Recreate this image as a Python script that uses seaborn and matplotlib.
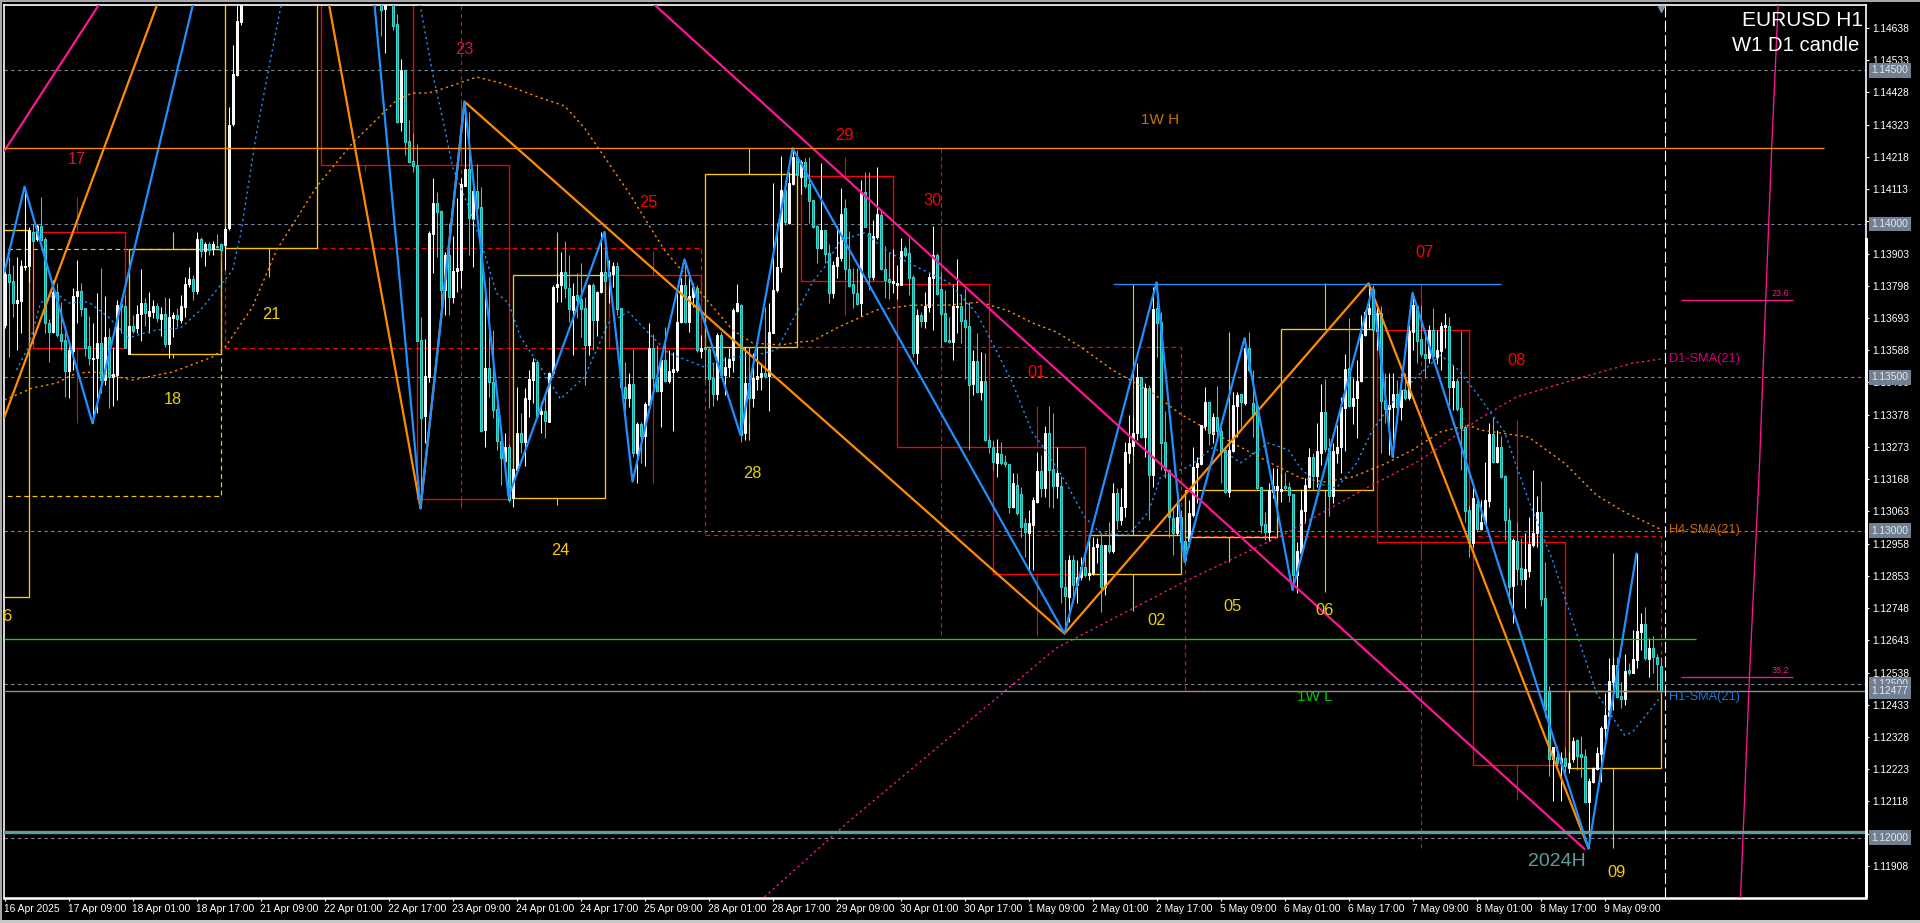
import numpy as np
import pandas as pd
import seaborn as sns
import matplotlib.pyplot as plt
from matplotlib.patches import Rectangle

off = np.nan  # bars above the top of the window

# H1 candles, prices in points (1e-5)
opens = [
    113670, 113836, 113814, 113741, 113750, 113858, 113862, 113973, 113951, 113993,
    113952, 113678, 113647, 113777, 113640, 113621, 113521, 113587, 113765, 113781,
    113724, 113602, 113559, 113563, 113610, 113491, 113630, 113502, 113507, 113737,
    113732, 113575, 113667, 113659, 113706, 113741, 113700, 113714, 113732, 113690,
    113706, 113608, 113694, 113703, 113687, 113730, 113804, 113819, 113781, 113950,
    113912, 113933, 113917, 113929, 113933, 113931, 113985, 114325, 114485, 114658,
] + [off] * 34 + [
    114800, 114699, off, 114800, 114651, 114333,
    114501, 114270, 114206, 114191, 113621, 113374, 113502, 113967, 114067, 114042,
    113784, 113898, 113762, 113846, 113849, 114123, 114177, 114016, 114107, 114053,
    113328, 113529, 113486, 113395, 113293, 113228, 113272, 113105, 113198, 113317,
    113290, 113429, 113491, 113549, 113380, 113390, 113355, 113513, 113793, 113800,
    113842, 113790, 113719, 113767, 113756, 113724, 113605, 113800, 113686, 113778,
    113844, 113830, 113836, 113862, 113724, 113469, 113434, 113478, 113252, 113348,
    113310, 113410, 113594, 113502, 113455, 113556, 113489, 113518, 113524, 113679,
    113800, 113681, 113762, 113792, 113587, 113597, 113593, 113496, 113445, 113638,
    113507, 113532, 113556, 113716, 113735, 113317, 113480, 113431, 113494, 113502,
    113515, 113505, 113643, 113784, 113860, 114110, 114003, 114130, 114219, 114153,
    114202, 114130, 114077, 113993, 113920, 113980, 113904, 113775, 113862, 113887,
    114050, 113852, 113804, 113775, 113741, 114102, 113971, 113825, 113956, 114029,
    113853, 113819, 113808, 113802, 113802, 113922, 113904, 113825, 113578, 113703,
    113684, 113730, 113822, 113898, 113787, 113709, 113621, 113616, 113728, 113732,
    113685, 113667, 113477, 113553, 113453, 113489, 113295, 113274, 113222, 113250,
    113225, 113217, 113078, 113149, 113120, 113026, 112991, 113019, 113095, 113194,
    113138, 113317, 113201, 113146, 113146, 112816, 112785, 112905, 112823, 112850,
    112881, 112856, 112863, 112946, 112953, 112818, 112953, 112935, 113122, 113035,
    113076, 113254, 113276, 113317, 113502, 113306, 113466, 113181, 113724, 113681,
    113288, 113198, 113040, 112991, 113044, 112967, 112967, 113051, 113206, 113217,
    113341, 113420, 113315, 113369, 113326, 113263, 113127, 113260, 113406, 113445,
    113417, 113596, 113417, 113406, 113141, 113022, 112995, 113127, 113133, 113130,
    113146, 113141, 113120, 112856, 112929, 113065, 113144, 113241, 113178, 113254,
    113386, 113268, 113113, 113254, 113274, 113401, 113529, 113406, 113431, 113488,
    113638, 113705, 113786, 113651, 113708, 113426, 113395, 113404, 113447, 113404,
    113458, 113431, 113648, 113732, 113623, 113576, 113562, 113654, 113567, 113586,
    113663, 113667, 113469, 113488, 113399, 113339, 113067, 112959, 113087, 113005,
    113026, 113098, 113315, 113223, 113274, 113178, 113035, 112820, 112966, 112877,
    112843, 112870, 112953, 112991, 113061, 112780, 112478, 112256, 112264, 112242,
    112258, 112226, 112255, 112318, 112272, 112266, 112117, 112180, 112223, 112272,
    112356, 112397, 112508, 112562, 112461, 112453, 112546, 112537, 112579, 112670,
    112696, 112581, 112617, 112587, 112559,
]
highs = [
    113860, 113893, 113865, 113893, 113882, 114121, 113991, 114000, 114000, 114088,
    113956, 113689, 113817, 113806, 113746, 113643, 113610, 113790, 113882, 113806,
    113724, 113700, 113676, 113773, 113855, 113765, 113659, 113600, 113752, 113757,
    113768, 113667, 113703, 113735, 113853, 113757, 113779, 113752, 113741, 113728,
    113760, 113757, 113714, 113724, 113768, 113828, 113860, 113833, 113972, 113958,
    113942, 113942, 113945, 113967, 113938, 113991, 114379, 114582, 114718, 114900,
] + [off] * 34 + [
    114850, 114850, off, 114850, 114683, 114536,
    114501, 114338, 114295, 114260, 113697, 113623, 113977, 114148, 114105, 114045,
    113909, 114001, 113960, 114083, 114148, 114398, 114365, 114159, 114194, 114121,
    113806, 113828, 113654, 113431, 113295, 113317, 113282, 113203, 113469, 113382,
    113464, 113524, 113562, 113556, 113418, 113453, 113518, 113800, 113838, 113909,
    113944, 113898, 113806, 113838, 113871, 113762, 113803, 113806, 113781, 113974,
    113974, 113882, 113876, 113876, 113724, 113549, 113513, 113591, 113355, 113355,
    113420, 113676, 113640, 113605, 113562, 113663, 113589, 113583, 113773, 113822,
    113882, 113828, 113806, 113800, 113638, 113632, 113597, 113551, 113643, 113648,
    113567, 113594, 113724, 113803, 113739, 113600, 113572, 113578, 113597, 113545,
    113730, 113741, 114132, 114001, 114221, 114143, 114170, 114246, 114240, 114208,
    114213, 114216, 114077, 113995, 114197, 113980, 113934, 113880, 113993, 114115,
    114080, 113977, 113855, 113855, 114143, 114168, 114168, 114012, 114184, 114045,
    113928, 113909, 113917, 113866, 113953, 113928, 113953, 113833, 113722, 113714,
    113777, 113838, 113993, 113904, 113844, 113784, 113697, 113804, 113885, 113771,
    113786, 113746, 113589, 113643, 113583, 113578, 113312, 113295, 113298, 113290,
    113247, 113219, 113187, 113187, 113144, 113040, 113067, 113109, 113257, 113247,
    113341, 113406, 113382, 113274, 113178, 112905, 112921, 112921, 112905, 112915,
    112937, 112980, 112980, 112975, 112991, 112953, 113029, 113154, 113138, 113138,
    113290, 113377, 113371, 113545, 113502, 113480, 113475, 113795, 113811, 113714,
    113391, 113200, 113073, 113100, 113067, 112980, 113100, 113274, 113241, 113344,
    113467, 113423, 113385, 113471, 113339, 113274, 113274, 113453, 113453, 113450,
    113627, 113646, 113524, 113420, 113144, 113062, 113154, 113203, 113203, 113185,
    113192, 113160, 113120, 112964, 113135, 113171, 113268, 113252, 113350, 113477,
    113493, 113301, 113285, 113344, 113437, 113576, 113692, 113496, 113556, 113703,
    113719, 113804, 113800, 113735, 113732, 113513, 113513, 113513, 113491, 113513,
    113513, 113670, 113773, 113732, 113735, 113654, 113670, 113724, 113654, 113681,
    113708, 113697, 113540, 113496, 113651, 113344, 113084, 113138, 113100, 113100,
    113223, 113350, 113371, 113328, 113309, 113181, 113073, 112975, 113029, 112975,
    112991, 113044, 113198, 113113, 113162, 112899, 112494, 112296, 112299, 112280,
    112296, 112280, 112327, 112323, 112331, 112288, 112196, 112229, 112296, 112364,
    112470, 112584, 112590, 112590, 112508, 112598, 112568, 112677, 112926, 112731,
    112750, 112649, 112657, 112600, 112590,
]
lows = [
    113659, 113567, 113697, 113589, 113645, 113849, 113811, 113610, 113945, 113945,
    113645, 113551, 113643, 113632, 113589, 113437, 113431, 113524, 113678, 113700,
    113569, 113540, 113350, 113382, 113448, 113475, 113399, 113406, 113426, 113643,
    113594, 113575, 113643, 113643, 113619, 113667, 113643, 113692, 113681, 113634,
    113600, 113562, 113632, 113665, 113676, 113697, 113795, 113752, 113771, 113893,
    113862, 113898, 113898, 113920, 113871, 113849, 113980, 114318, 114481, 114648,
] + [off] * 34 + [
    114612, 114555, off, 114631, 114327, 114303,
    114224, 114197, 114170, 113618, 113073, 113285, 113486, 113838, 113893, 113703,
    113703, 113703, 113743, 113779, 113790, 114164, 113898, 113860, 114023, 113323,
    113274, 113437, 113366, 113263, 113149, 113178, 113095, 113078, 113192, 113252,
    113211, 113371, 113415, 113371, 113317, 113301, 113353, 113507, 113746, 113746,
    113757, 113681, 113572, 113692, 113632, 113475, 113572, 113589, 113635, 113776,
    113800, 113741, 113795, 113703, 113458, 113393, 113404, 113241, 113156, 113220,
    113211, 113399, 113469, 113453, 113337, 113486, 113480, 113325, 113518, 113676,
    113676, 113648, 113730, 113583, 113562, 113491, 113399, 113406, 113426, 113502,
    113442, 113502, 113518, 113714, 113290, 113295, 113350, 113404, 113458, 113458,
    113496, 113391, 113643, 113779, 113844, 113996, 114000, 114126, 114153, 114097,
    114115, 114001, 113985, 113871, 113917, 113871, 113741, 113757, 113822, 113880,
    113817, 113795, 113724, 113735, 113700, 113988, 113784, 113817, 113950, 113849,
    113757, 113754, 113773, 113754, 113800, 113893, 113768, 113567, 113543, 113665,
    113659, 113714, 113654, 113768, 113600, 113616, 113610, 113556, 113643, 113610,
    113493, 113263, 113442, 113450, 113426, 113292, 113252, 113198, 113176, 113214,
    113209, 113057, 113073, 113051, 112980, 112915, 112872, 112872, 113089, 113111,
    113111, 113076, 113073, 113105, 112763, 112676, 112704, 112763, 112763, 112839,
    112850, 112839, 112856, 112894, 112736, 112790, 112926, 112926, 113004, 113019,
    113046, 113220, 113247, 113295, 113301, 113241, 113035, 113143, 113567, 113198,
    113171, 112980, 112921, 112986, 112926, 112894, 112948, 113046, 113089, 113214,
    113328, 113279, 113285, 113295, 113154, 113122, 113111, 113258, 113306, 113339,
    113410, 113518, 113306, 113133, 112991, 112970, 112967, 113105, 113100, 113095,
    113133, 113095, 112807, 112798, 112926, 113024, 113138, 113133, 113144, 113214,
    113257, 113048, 113089, 113220, 113187, 113260, 113404, 113347, 113301, 113486,
    113634, 113659, 113652, 113589, 113254, 113350, 113247, 113241, 113350, 113361,
    113426, 113426, 113589, 113545, 113569, 113496, 113545, 113567, 113543, 113524,
    113594, 113410, 113393, 113390, 113198, 113029, 112913, 112948, 112997, 113002,
    113024, 113078, 113220, 113220, 113171, 112970, 112763, 112698, 112823, 112823,
    112749, 112850, 112948, 112948, 112755, 112394, 112202, 112120, 112231, 112120,
    112199, 112210, 112247, 112220, 112199, 112112, 111965, 112177, 112220, 112182,
    112313, 112394, 112416, 112454, 112421, 112432, 112530, 112535, 112552, 112611,
    112579, 112524, 112535, 112481, 112470,
]
closes = [
    113836, 113811, 113743, 113752, 113862, 113862, 113980, 113945, 113993, 113947,
    113676, 113648, 113779, 113638, 113619, 113521, 113589, 113765, 113781, 113721,
    113594, 113562, 113564, 113610, 113491, 113632, 113502, 113510, 113735, 113730,
    113594, 113667, 113652, 113706, 113741, 113710, 113716, 113732, 113692, 113706,
    113607, 113697, 113703, 113689, 113732, 113804, 113819, 113782, 113950, 113912,
    113933, 113914, 113933, 113925, 113914, 113983, 114322, 114488, 114661, 114850,
] + [off] * 34 + [
    114696, 114800, off, 114644, 114333, 114501,
    114267, 114202, 114189, 113619, 113366, 113504, 113971, 114067, 114039, 113784,
    113898, 113762, 113846, 113855, 114130, 114177, 114018, 114107, 114050, 113326,
    113529, 113486, 113393, 113293, 113236, 113274, 113100, 113200, 113317, 113290,
    113434, 113494, 113549, 113374, 113390, 113357, 113515, 113795, 113804, 113842,
    113790, 113722, 113765, 113752, 113722, 113605, 113800, 113686, 113778, 113844,
    113815, 113844, 113862, 113722, 113467, 113434, 113478, 113252, 113348, 113310,
    113413, 113594, 113496, 113455, 113556, 113489, 113520, 113527, 113679, 113800,
    113681, 113765, 113793, 113589, 113594, 113593, 113494, 113445, 113638, 113507,
    113532, 113559, 113719, 113741, 113312, 113480, 113431, 113496, 113505, 113515,
    113504, 113646, 113784, 113858, 114110, 114005, 114134, 114219, 114159, 114202,
    114123, 114074, 113988, 113922, 113980, 113901, 113773, 113866, 113891, 114032,
    113852, 113798, 113775, 113739, 114105, 113991, 113828, 113960, 114032, 113853,
    113817, 113811, 113813, 113808, 113911, 113898, 113824, 113578, 113703, 113684,
    113732, 113828, 113898, 113771, 113706, 113618, 113614, 113732, 113732, 113683,
    113665, 113475, 113553, 113453, 113489, 113295, 113274, 113225, 113254, 113220,
    113217, 113078, 113154, 113057, 113013, 112997, 113026, 113100, 113194, 113138,
    113317, 113198, 113146, 113189, 112816, 112787, 112905, 112823, 112850, 112881,
    112856, 112863, 112948, 112957, 112818, 112953, 112935, 113122, 113035, 113076,
    113258, 113285, 113319, 113502, 113306, 113466, 113181, 113721, 113678, 113287,
    113198, 113044, 112991, 113044, 112964, 112905, 113057, 113209, 113222, 113344,
    113418, 113317, 113369, 113326, 113257, 113127, 113263, 113410, 113442, 113420,
    113596, 113524, 113380, 113138, 113019, 112997, 113133, 113146, 113146, 113135,
    113138, 113116, 112856, 112934, 113067, 113149, 113241, 113178, 113260, 113386,
    113266, 113113, 113260, 113274, 113404, 113527, 113406, 113434, 113488, 113641,
    113714, 113727, 113654, 113708, 113424, 113397, 113410, 113444, 113404, 113458,
    113431, 113651, 113735, 113619, 113576, 113564, 113654, 113569, 113589, 113667,
    113670, 113469, 113488, 113395, 113336, 113065, 112959, 113105, 113005, 113029,
    113100, 113315, 113223, 113274, 113176, 113035, 112818, 112970, 112874, 112843,
    112875, 112957, 112991, 113061, 112777, 112416, 112256, 112294, 112242, 112258,
    112233, 112244, 112315, 112266, 112264, 112117, 112186, 112226, 112275, 112358,
    112400, 112510, 112562, 112459, 112453, 112543, 112537, 112582, 112673, 112696,
    112584, 112617, 112587, 112566, 112477,
]

# zigzags and the big trend line (bar number, price)
blue_zz_bar = [0, 5, 22, 80, 104, 115, 126, 150, 157, 170, 184, 197, 265, 288, 295, 310, 322, 342, 347, 352, 396, 408]
blue_zz_val = [113844, 114121, 113350, 116501, 113073, 114398, 113111, 113974, 113160, 113884, 113312, 114246,
               112665, 113809, 112899, 113627, 112807, 113790, 113241, 113775, 111965, 112926]
orange_zz_bar = [0, 67, 104, 115, 265, 341, 396]
orange_zz_val = [113371, 115729, 113073, 114398, 112665, 113806, 111965]
pink_zz_bar = [0, 75, 395]
pink_zz_val = [114238, 115749, 111963]

# moving averages
d1_bar = [190, 211, 263, 295, 320, 341, 354, 369, 378, 395, 407, 414]
d1_val = [111807, 112052, 112618, 112834, 112989, 113143, 113230, 113367, 113436, 113502, 113546, 113559]
h4_bar = [0, 7, 13, 18, 23, 32, 42, 52, 55, 62, 68, 78, 87, 98, 102, 106, 111, 118, 124, 134, 140, 145, 150, 156,
          165, 172, 182, 187, 194, 199, 202, 208, 218, 227, 236, 244, 251, 257, 263, 269, 277, 287, 294, 300, 307,
          316, 324, 330, 337, 345, 352, 359, 366, 369, 381, 390, 398, 405, 414]
h4_val = [113426, 113465, 113481, 113514, 113517, 113491, 113517, 113566, 113595, 113729, 113914, 114120, 114263,
          114403, 114426, 114426, 114446, 114478, 114459, 114410, 114384, 114312, 114217, 114103, 113914, 113807,
          113654, 113612, 113605, 113615, 113618, 113660, 113719, 113735, 113735, 113745, 113716, 113677, 113647,
          113599, 113524, 113449, 113380, 113335, 113286, 113224, 113172, 113159, 113175, 113217, 113263, 113322,
          113344, 113328, 113305, 113220, 113116, 113061, 113005]
h1_bar = [3, 6, 9, 13, 16, 21, 26, 31, 35, 38, 44, 49, 54, 57, 59, 63, 66, 69, 86, 104, 107, 110, 112, 116, 119, 123,
          126, 129, 134, 139, 145, 151, 156, 161, 166, 175, 182, 187, 193, 198, 202, 205, 209, 215, 221, 227, 236,
          243, 247, 252, 257, 259, 265, 270, 274, 281, 286, 289, 296, 302, 307, 309, 316, 321, 324, 328, 333, 338,
          342, 347, 353, 359, 363, 368, 375, 381, 387, 393, 398, 405, 407, 414]
h1_val = [113524, 113598, 113742, 113774, 113742, 113745, 113696, 113628, 113644, 113654, 113660, 113719, 113800,
          113849, 113963, 114296, 114501, 114703, 115300, 114706, 114491, 114315, 114185, 114055, 113947, 113774,
          113742, 113631, 113533, 113429, 113501, 113677, 113713, 113644, 113579, 113533, 113566, 113569, 113589,
          113709, 113810, 113859, 113947, 113970, 113908, 113866, 113810, 113709, 113611, 113481, 113318, 113286,
          113165, 113045, 112992, 112986, 113061, 113175, 113208, 113270, 113240, 113221, 113286, 113263, 113204,
          113155, 113139, 113220, 113328, 113419, 113501, 113572, 113530, 113449, 113322, 113100, 112904, 112667,
          112471, 112334, 112344, 112458]

# steep fibo line on the right
fibo_bar = [443.4, 441.8, 440.3, 438.8, 436.2, 434.7, 434]
fibo_val = [114713, 114247, 113752, 113230, 112514, 112025, 111803]

# daily candle frames
day_start = [-17, 7, 31, 55, 79, 103, 127, 151, 175, 199, 223, 247, 271, 295, 319, 343, 367, 391]
day_top = [113980, 113973, 113917, 115400, 115400, 114190, 113832, 113832, 114161, 114156, 113803, 113274, 112985,
           113132, 113656, 113653, 112962, 112477]
day_bottom = [112784, 113596, 113576, 113921, 114191, 113102, 113106, 113594, 113597, 113813, 113274, 112858, 112858,
              112980, 113132, 112962, 112236, 112226]
day_high = [113980, 114087, 113973, 115500, 115500, 114398, 113974, 113911, 114246, 114217, 113993, 113406, 113803,
            113646, 113806, 113807, 113361, 112927]
day_low = [112784, 113351, 113563, 113827, 114173, 113077, 113084, 113156, 113295, 113704, 113176, 112658, 112738,
           112899, 112801, 112914, 112122, 111966]
day_is_up = [True, False, True, True, False, False, True, False, True, False, False, False, True, True, True, False,
             False, True]

# weekly candle frames, dashed
week_start = [-60, 55, 175, 295]
week_end = [54, 174, 294, 414]
week_top = [113917, 113920, 113597, 112983]
week_bottom = [113113, 113594, 112986, 112478]
week_high = [off, 115500, 114246, 113804]
week_low = [off, 113074, 112660, 111966]
week_color = ["#ffc800", "#ff0000", "#ff0000", "#ff0000"]

# day numbers
day_text = ["6", "17", "18", "21", "23", "24", "25", "28", "29", "30", "01", "02", "05", "06", "07", "08", "09"]
day_text_bar = [0.6, 18, 42, 66.6, 115, 139, 161, 187, 210, 232, 258, 288, 307, 330, 355, 378, 403]
day_text_val = [112719, 114211, 113426, 113703, 114569, 112934, 114069, 113188, 114289, 114077, 113514, 112709,
                112752, 112739, 113905, 113556, 111887]
day_text_color = ["#ffc800", "#dc143c", "#e6d200", "#e6d200", "#dc143c", "#ffc800", "#ff0000", "#e6d200", "#ff0000",
                  "#ff0000", "#ff0000", "#e6d200", "#e6d200", "#e6d200", "#ff0000", "#ff0000", "#ffc800"]

# axis labels
price_ticks = [1.14638, 1.14533, 1.14428, 1.14323, 1.14218, 1.14113, 1.14008, 1.13903, 1.13798, 1.13693, 1.13588,
               1.13483, 1.13378, 1.13273, 1.13168, 1.13063, 1.12958, 1.12853, 1.12748, 1.12643, 1.12538, 1.12433,
               1.12328, 1.12223, 1.12118, 1.12013, 1.11908]
time_labels = ["16 Apr 2025", "17 Apr 09:00", "18 Apr 01:00", "18 Apr 17:00", "21 Apr 09:00", "22 Apr 01:00",
               "22 Apr 17:00", "23 Apr 09:00", "24 Apr 01:00", "24 Apr 17:00", "25 Apr 09:00", "28 Apr 01:00",
               "28 Apr 17:00", "29 Apr 09:00", "30 Apr 01:00", "30 Apr 17:00", "1 May 09:00", "2 May 01:00",
               "2 May 17:00", "5 May 09:00", "6 May 01:00", "6 May 17:00", "7 May 09:00", "8 May 01:00",
               "8 May 17:00", "9 May 09:00"]
round_levels = [1.145, 1.14, 1.135, 1.13, 1.125, 1.12]

GOLD = "#ffc800"
RED = "#ff0000"
BLUE = "#1e90ff"
ORANGE = "#ff8c00"
PINK = "#ff1493"
GRID = "#778899"
TEAL = "#5f9ea0"

sns.set_theme(style="dark")
plt.rcParams["font.family"] = ["Liberation Sans", "DejaVu Sans"]

df = pd.DataFrame({"open": opens, "high": highs, "low": lows, "close": closes}) / 1e5
df["bar"] = np.arange(len(df))
df = df.dropna()
up = df[df["close"] >= df["open"]]
down = df[df["close"] < df["open"]]

fig = plt.figure(figsize=(19.2, 9.23), dpi=100, facecolor="black")
ax = fig.add_axes([4 / 1920, 1 - 898 / 923, 1862 / 1920, 893 / 923], facecolor="black")
ax.set_xlim(-0.125, 465.375)
ax.set_ylim(1.118035, 1.147127)

# round price levels
for level in round_levels:
    ax.axhline(level, color=GRID, lw=0.8, ls=(0, (3, 3)), zorder=1)

# daily frames with their wicks
for i in range(len(day_start)):
    color = GOLD if day_is_up[i] else RED
    x0, x1 = day_start[i], day_start[i] + 23
    mid = day_start[i] + 11
    top, bottom = day_top[i] / 1e5, day_bottom[i] / 1e5
    ax.add_patch(Rectangle((x0, bottom), x1 - x0, top - bottom, fill=False, ec=color, lw=0.95, zorder=2))
    ax.vlines(mid, top, day_high[i] / 1e5, color=color, lw=0.8, zorder=2)
    ax.vlines(mid, day_low[i] / 1e5, bottom, color=color, lw=0.8, zorder=2)

# weekly frames
for i in range(len(week_start)):
    x0, x1 = week_start[i], week_end[i]
    top, bottom = week_top[i] / 1e5, week_bottom[i] / 1e5
    dash = (0, (4, 3))
    ax.add_patch(Rectangle((x0, bottom), x1 - x0, top - bottom, fill=False, ec=week_color[i], lw=0.85, ls=dash, zorder=1.5))
    if not np.isnan(week_high[i]):
        mid = (x0 + x1) / 2 - 0.5
        ax.vlines(mid, week_low[i] / 1e5, week_high[i] / 1e5, color=week_color[i], lw=0.8, ls=dash, zorder=1.5)

# candles
ax.vlines(up["bar"], up["low"], up["high"], color="white", lw=0.75, zorder=3)
ax.vlines(down["bar"], down["low"], down["high"], color="#30d0b8", lw=0.75, zorder=3)
ax.bar(up["bar"], up["close"] - up["open"], bottom=up["open"], width=0.5, color="#fff0f5", edgecolor="white", lw=0.72, zorder=4)
ax.bar(down["bar"], down["open"] - down["close"], bottom=down["close"], width=0.5, color=BLUE, edgecolor="#38d8d0", lw=0.72, zorder=4)

# moving averages, dotted
dots = (0, (1.6, 2.4))
sns.lineplot(x=np.array(d1_bar), y=np.array(d1_val) / 1e5, ax=ax, color=PINK, lw=1.0, ls=dots, estimator=None, zorder=5)
sns.lineplot(x=np.array(h4_bar), y=np.array(h4_val) / 1e5, ax=ax, color=ORANGE, lw=1.0, ls=dots, estimator=None, zorder=5)
sns.lineplot(x=np.array(h1_bar), y=np.array(h1_val) / 1e5, ax=ax, color=BLUE, lw=1.0, ls=dots, estimator=None, zorder=5)

# zigzags and trend line
sns.lineplot(x=np.array(orange_zz_bar), y=np.array(orange_zz_val) / 1e5, ax=ax, color=ORANGE, lw=1.6, estimator=None, zorder=6)
sns.lineplot(x=np.array(blue_zz_bar), y=np.array(blue_zz_val) / 1e5, ax=ax, color=BLUE, lw=1.6, estimator=None, zorder=6)
sns.lineplot(x=np.array(pink_zz_bar), y=np.array(pink_zz_val) / 1e5, ax=ax, color=PINK, lw=1.6, estimator=None, zorder=6)
sns.lineplot(x=fibo_bar, y=np.array(fibo_val) / 1e5, ax=ax, color=PINK, lw=0.95, estimator=None, sort=False, zorder=6)

# weekly and yearly levels
ax.hlines(1.14246, -0.125, 454.8, color=ORANGE, lw=0.95, zorder=6)
ax.hlines(1.12646, -0.125, 422.9, color="#00e000", lw=0.95, zorder=6)
ax.hlines(1.13803, 277, 374, color=BLUE, lw=0.95, zorder=6)
ax.axhline(1.12017, color=TEAL, lw=2.4, zorder=6)
ax.axhline(1.12477, color="#8090a0", lw=1.0, zorder=7)
ax.hlines(1.13751, 419, 447, color=PINK, lw=0.95, zorder=6)
ax.hlines(1.12522, 419, 447, color=PINK, lw=0.95, zorder=6)

# current bar marker
ax.axvline(415, color="white", lw=0.8, ls=(0, (10, 3)), zorder=8)
ax.plot(414, 1.14700, marker="v", ms=5, color="#8090a0", clip_on=False, zorder=8)

for i in range(len(day_text)):
    ax.text(day_text_bar[i], day_text_val[i] / 1e5, day_text[i], color=day_text_color[i], fontsize=11.8,
            ha="center", va="center", zorder=9)

ax.text(289, 1.14338, "1W H", color="#c87000", fontsize=11, ha="center", va="center", zorder=9)
ax.text(327.5, 1.12458, "1W L", color="#00c800", fontsize=11, ha="center", va="center", zorder=9)
ax.text(388, 1.11924, "2024H", color=TEAL, fontsize=14, ha="center", va="center", zorder=9)
ax.text(416, 1.13559, "D1-SMA(21)", color="#d8007a", fontsize=9.2, va="center", zorder=9)
ax.text(416, 1.13001, "H4-SMA(21)", color="#c86400", fontsize=9.2, va="center", zorder=9)
ax.text(416, 1.12458, "H1-SMA(21)", color="#1e78d0", fontsize=9.2, va="center", zorder=9)
ax.text(444, 1.13773, "23.6", color=PINK, fontsize=6.4, ha="center", va="center", zorder=9)
ax.text(444, 1.12544, "38.2", color=PINK, fontsize=6.4, ha="center", va="center", zorder=9)

ax.text(0.9985, 0.9830, "EURUSD H1", color="white", fontsize=15, ha="right", va="center", transform=ax.transAxes, zorder=9)
ax.text(0.9965, 0.9545, "W1 D1 candle", color="white", fontsize=14.6, ha="right", va="center", transform=ax.transAxes, zorder=9)

# axes, MT4 style
for spine in ax.spines.values():
    spine.set_color("white")
    spine.set_linewidth(1.2)
ax.spines["bottom"].set_linewidth(1.8)
ax.set_xticks(np.arange(0, 16 * len(time_labels), 16))
ax.set_xticklabels(time_labels, ha="left")
ax.set_yticks(price_ticks)
ax.set_yticklabels([f"{p:.5f}" for p in price_ticks])
ax.yaxis.tick_right()
ax.tick_params(axis="both", colors="white", labelsize=7.4, length=2.5, width=0.8, pad=2, bottom=True, right=True)
ax.set_xlabel("")
ax.set_ylabel("")
ax.grid(False)

# price tags on the scale
for level in round_levels + [1.12477]:
    ax.annotate(f"{level:.5f}", xy=(1, level), xycoords=("axes fraction", "data"), xytext=(3.9, 0),
                textcoords="offset points", va="center", fontsize=7.4, color="#e4e8ee",
                bbox=dict(facecolor="#708090", edgecolor="none", pad=1.6), annotation_clip=False, zorder=10)

# window edges and the thicker part of the price scale border
fig.add_artist(Rectangle((0, 0), 2 / 1920, 1, transform=fig.transFigure, color="#a8a8a8", lw=0))
fig.add_artist(Rectangle((0, 1 - 2 / 923), 1, 2 / 923, transform=fig.transFigure, color="#a8a8a8", lw=0))
fig.add_artist(Rectangle((0, 0), 1, 3 / 923, transform=fig.transFigure, color="#c8c8c8", lw=0))
fig.add_artist(Rectangle((1865 / 1920, 1 - 898 / 923), 2.5 / 1920, 660 / 923, transform=fig.transFigure, color="white", lw=0))

plt.savefig("out.png", dpi=100, facecolor="black")
plt.close()
